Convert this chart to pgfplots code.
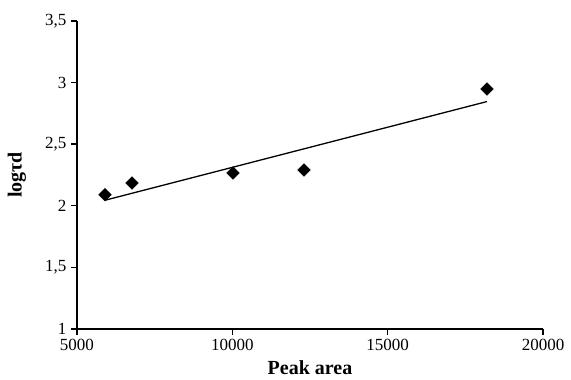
\documentclass[border=0pt]{standalone}
\usepackage{pgfplots}
\pgfplotsset{compat=1.18}
\usepackage{fontspec}
\setmainfont{Liberation Serif}
\begin{document}
\begin{tikzpicture}
\begin{axis}[
  scale only axis,
  width=466pt, height=308pt,
  xmin=5000, xmax=20000,
  ymin=1, ymax=3.5,
  axis lines*=left,
  axis line style={-, line width=1.3pt},
  xtick={5000,10000,15000,20000},
  ytick={1,1.5,2,2.5,3,3.5},
  scaled ticks=false,
  xtick align=outside,
  ytick align=outside,
  major tick length=6pt,
  major tick style={draw=black, line width=1.4pt},
  /pgf/number format/assume math mode=true,
  tick label style={font=\fontsize{17}{17}\selectfont},
  x tick label style={/pgf/number format/1000 sep={}, yshift=-1pt},
  y tick label style={/pgf/number format/use comma, /pgf/number format/fixed, xshift=-1pt},
  xlabel={\textbf{Peak area}},
  ylabel={\textbf{logτd}},
  label style={font=\fontsize{20}{20}\selectfont},
  xlabel style={at={(axis description cs:0.5,0)}, anchor=center, yshift=-39pt},
  ylabel style={at={(axis description cs:0,0.5)}, anchor=center, yshift=60pt},
  clip=false,
]
\addplot[only marks, mark=square*, mark size=4.5pt, mark options={rotate=45}, black] coordinates {
  (5900,2.09) (6770,2.185) (10020,2.266) (12306,2.29) (18196,2.948)
};
\addplot[black, line width=1.3pt] coordinates {
  (5900,2.045) (18196,2.846)
};
\end{axis}
\pgfresetboundingbox
\path ([shift={(-77pt,-51pt)}]current axis.south west) rectangle ([shift={(28pt,21pt)}]current axis.north east);
\end{tikzpicture}
\end{document}
